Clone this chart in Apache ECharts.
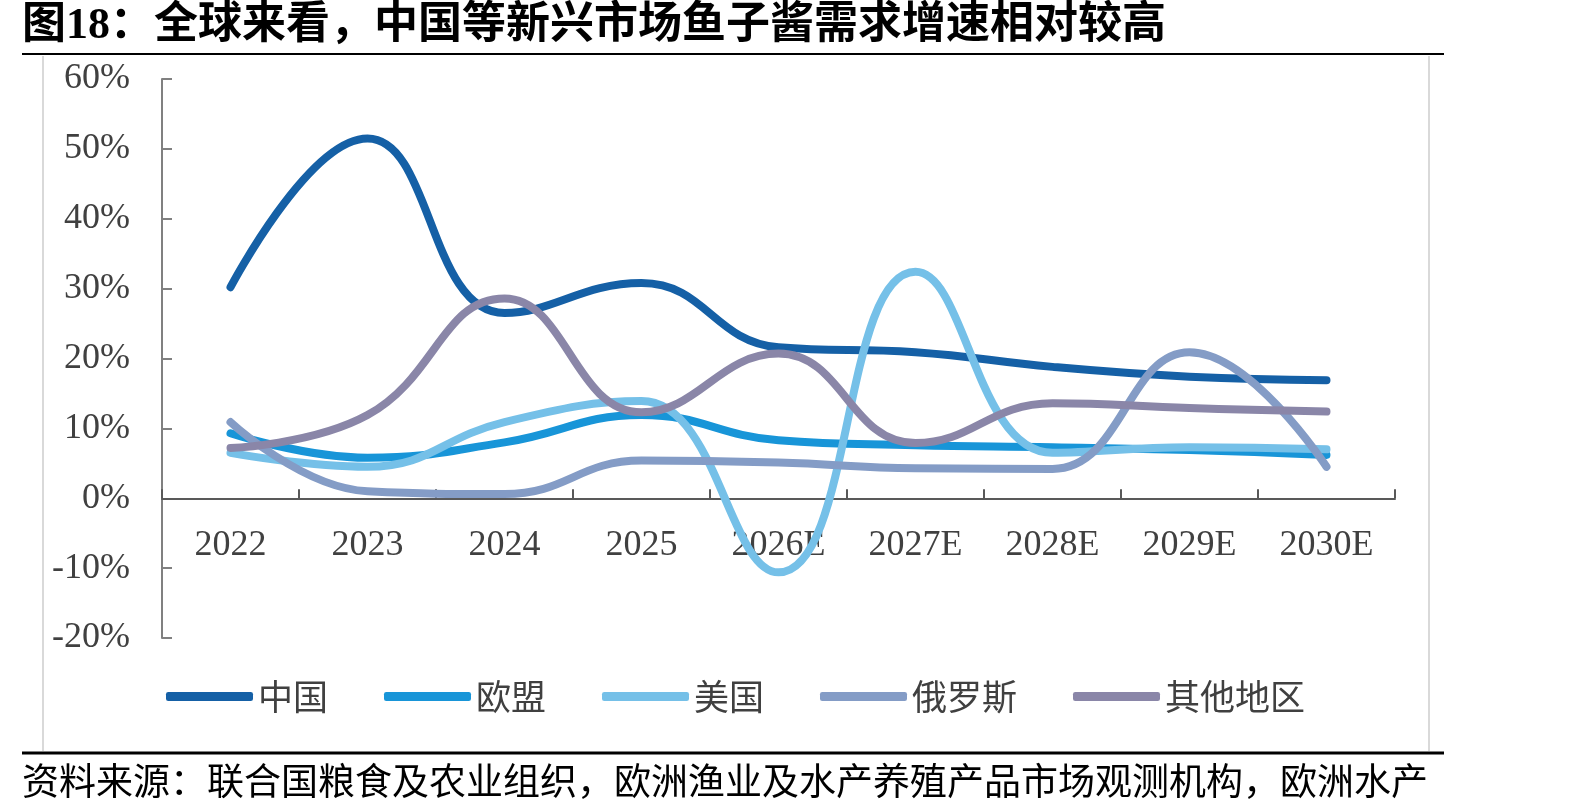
<!DOCTYPE html>
<html><head><meta charset="utf-8">
<script src="https://cdn.jsdelivr.net/npm/echarts@6/dist/echarts.min.js"></script>
<style>html,body{margin:0;padding:0;background:#fff}#c{width:1594px;height:811px}</style>
</head><body><div id="c"></div>
<script>
const categories = ['2022','2023','2024','2025','2026E','2027E','2028E','2029E','2030E'];
const china   = [30.2, 51.5, 26.5, 30.8, 21.6, 20.9, 18.8, 17.4, 16.9];
const eu      = [9.3, 5.8, 8.0, 11.9, 8.3, 7.6, 7.3, 6.9, 6.2];
const usa     = [6.5, 4.5, 10.9, 13.9, -10.6, 32.4, 6.5, 7.3, 7.0];
const russia  = [10.9, 1.0, 0.6, 5.4, 5.1, 4.3, 4.2, 20.9, 4.5];
const others  = [7.2, 11.9, 28.6, 12.3, 20.7, 7.9, 13.6, 12.9, 12.4];
const yTicks = {min: -20, max: 60, interval: 10};
const seriesNames = ['中国','欧盟','美国','俄罗斯','其他地区'];
const colors = ['#1560A6','#1895D8','#75C0E8','#849CC6','#8A86A8'];

const gridTop = 79, gridBottom = 173, H = 811;
const plotH = H - gridTop - gridBottom;
const zeroOffset = -plotH * (0 - yTicks.min) / (yTicks.max - yTicks.min);

const chart = echarts.init(document.getElementById('c'));
const serif = '"Liberation Serif", "Times New Roman", serif';
const cjk = '"Noto Sans CJK SC", sans-serif';
const mk = (name, data, i) => ({
  name, type: 'line', data, smooth: 0.45, symbol: 'none',
  lineStyle: {width: 8, color: colors[i], cap: 'round', join: 'round'},
  itemStyle: {color: colors[i]}, z: 3
});
chart.setOption({
  animation: false,
  grid: {left: 162, right: 199, top: gridTop, bottom: gridBottom},
  xAxis: {
    type: 'category', data: categories, boundaryGap: true,
    position: 'bottom', offset: zeroOffset,
    axisLine: {onZero: false, lineStyle: {color: '#595959', width: 2}},
    axisTick: {show: true, inside: true, length: 9, lineStyle: {color: '#595959', width: 2}},
    axisLabel: {margin: 29, fontSize: 36, fontFamily: serif, color: '#404040'},
    z: 1
  },
  yAxis: {
    type: 'value', min: yTicks.min, max: yTicks.max, interval: yTicks.interval,
    axisLine: {show: true, lineStyle: {color: '#808080', width: 2}},
    axisTick: {show: true, inside: true, length: 10, lineStyle: {color: '#808080', width: 2}},
    axisLabel: {formatter: '{value}%', margin: 32, fontSize: 36, fontFamily: serif, color: '#404040'},
    splitLine: {show: false}
  },
  legend: {
    data: seriesNames, left: 161, top: 674, icon: 'roundRect',
    itemWidth: 87, itemHeight: 9, itemGap: 56,
    textStyle: {fontSize: 35, fontFamily: cjk, color: '#404040', padding: [0,0,0,0]}
  },
  series: [mk(seriesNames[0], china, 0), mk(seriesNames[1], eu, 1), mk(seriesNames[2], usa, 2), mk(seriesNames[3], russia, 3), mk(seriesNames[4], others, 4)],
  graphic: [
    {type: 'text', left: 22, top: 5, style: {text: '图18：全球来看，中国等新兴市场鱼子酱需求增速相对较高', font: 'bold 44px "Liberation Serif", "Noto Sans CJK SC"', fill: '#000'}},
    {type: 'line', shape: {x1: 22, y1: 54, x2: 1444, y2: 54}, style: {stroke: '#000', lineWidth: 2}},
    {type: 'line', shape: {x1: 43, y1: 56, x2: 43, y2: 751}, style: {stroke: '#d9d9d9', lineWidth: 2}},
    {type: 'line', shape: {x1: 1429, y1: 56, x2: 1429, y2: 751}, style: {stroke: '#d9d9d9', lineWidth: 2}},
    {type: 'line', shape: {x1: 22, y1: 753, x2: 1444, y2: 753}, style: {stroke: '#000', lineWidth: 3}},
    {type: 'text', left: 22, top: 762, style: {text: '资料来源：联合国粮食及农业组织，欧洲渔业及水产养殖产品市场观测机构，欧洲水产', font: '37px "Noto Sans CJK SC"', fill: '#000'}}
  ]
});
</script></body></html>
